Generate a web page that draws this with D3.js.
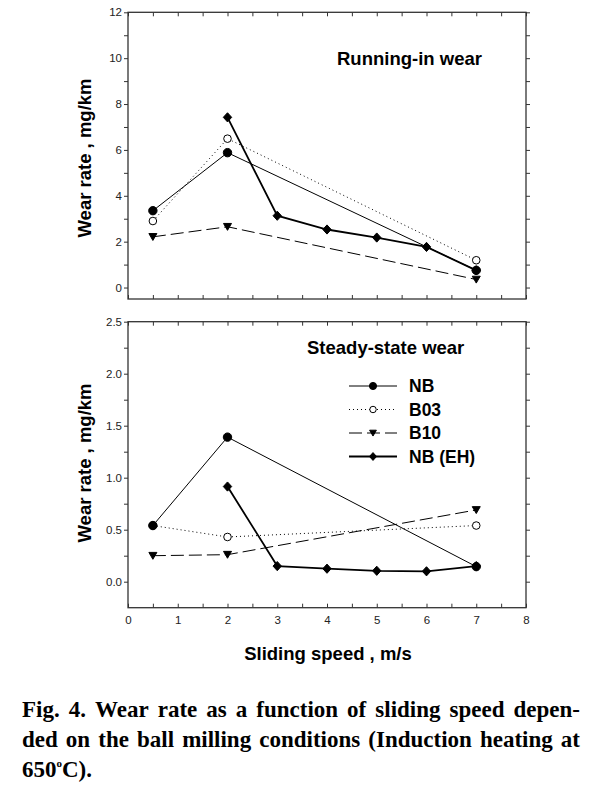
<!DOCTYPE html>
<html><head><meta charset="utf-8">
<script src="https://cdn.jsdelivr.net/npm/d3@7"></script>
<style>html,body{margin:0;padding:0;background:#fff}svg{display:block}</style>
</head><body>
<svg id="chart" width="603" height="787"></svg>
<script>
// ---- data ----
const speeds = [0.5, 2, 7];
const speedsEH = [2, 3, 4, 5, 6, 7];
const nbRun = [3.35, 5.88, 0.75];
const b03Run = [2.9, 6.49, 1.19];
const b10Run = [2.21, 2.65, 0.35];
const nbEhRun = [7.42, 3.13, 2.53, 2.18, 1.77, 0.75];
const nbSteady = [0.54, 1.39, 0.145];
const b03Steady = [0.54, 0.43, 0.54];
const b10Steady = [0.25, 0.26, 0.69];
const nbEhSteady = [0.915, 0.15, 0.125, 0.105, 0.10, 0.15];
const xTickLabels = [0, 1, 2, 3, 4, 5, 6, 7, 8];
const yTopLabels = [0, 2, 4, 6, 8, 10, 12];
const yBotLabels = [0, 0.5, 1.0, 1.5, 2.0, 2.5];
const seriesNames = ["NB", "B03", "B10", "NB (EH)"];
const panelTitles = ["Running-in wear", "Steady-state wear"];
const captionLines = [
  "Fig. 4. Wear rate as a function of sliding speed depen-",
  "ded on the ball milling conditions (Induction heating at"
];

const svg = d3.select("#chart");
const L = 128, R = 526;
const x = d3.scaleLinear().domain([0, 8]).range([L, R]);
const panels = [
  {top: 12.3, bottom: 299, domain: [-0.5, 12], labels: yTopLabels, step: 1, fmt: d3.format("d"),
   data: [nbRun, b03Run, b10Run, nbEhRun], title: panelTitles[0], tx: 337, ty: 65, xl: false, lblY: 158},
  {top: 321.7, bottom: 607.7, domain: [-0.25, 2.5], labels: yBotLabels, step: 0.25, fmt: d3.format(".1f"),
   data: [nbSteady, b03Steady, b10Steady, nbEhSteady], title: panelTitles[1], tx: 307, ty: 354, xl: true, lblY: 463}
];

const sym = {
  circle: r => d3.symbol(d3.symbolCircle, Math.PI * r * r)(),
  tri: s => `M${-4*s},${-3.3*s}L${4*s},${-3.3*s}L0,${3.6*s}Z`,
  dia: s => `M0,${-4.6*s}L${4.2*s},0L0,${4.6*s}L${-4.2*s},0Z`
};
const styles = [
  {w: 1, dash: null, mk: s => sym.circle(4.2*s), fill: "#000"},
  {w: 1, dash: "1,3", mk: s => sym.circle(3.8*s), fill: "#fff"},
  {w: 1, dash: "13,5", mk: s => sym.tri(s), fill: "#000"},
  {w: 1.8, dash: null, mk: s => sym.dia(s), fill: "#000"}
];
const xsFor = i => i === 3 ? speedsEH : speeds;

panels.forEach(p => {
  const y = d3.scaleLinear().domain(p.domain).range([p.bottom, p.top]);
  const g = svg.append("g");
  const minorX = d3.range(0, 8.001, 0.5);
  const yTicksAll = d3.range(0, p.domain[1] + 1e-6, p.step);
  const ax = g.append("g").attr("transform", `translate(0,${p.bottom})`)
    .call(d3.axisBottom(x).tickValues(minorX).tickSize(-4).tickFormat(""));
  const at = g.append("g").attr("transform", `translate(0,${p.top})`)
    .call(d3.axisTop(x).tickValues(minorX).tickSize(-4).tickFormat(""));
  const al = g.append("g").attr("transform", `translate(${L},0)`)
    .call(d3.axisLeft(y).tickValues(yTicksAll).tickSize(4).tickFormat(""));
  const ar = g.append("g").attr("transform", `translate(${R},0)`)
    .call(d3.axisRight(y).tickValues(yTicksAll).tickSize(4).tickFormat(""));
  [ax, at, al, ar].forEach(a => { a.select(".domain").remove(); a.selectAll("line").attr("stroke", "#333").attr("stroke-width", 1); });
  const lab = g.append("g").attr("transform", `translate(${L},0)`)
    .call(d3.axisLeft(y).tickValues(p.labels).tickSize(0).tickPadding(6).tickFormat(p.fmt));
  lab.select(".domain").remove();
  lab.selectAll("text").attr("font-family", "Liberation Sans, Arial, sans-serif").attr("font-size", 11.5).attr("fill", "#222");
  if (p.xl) {
    const xl = g.append("g").attr("transform", `translate(0,${p.bottom})`)
      .call(d3.axisBottom(x).tickValues(xTickLabels).tickSize(0).tickPadding(8).tickFormat(d3.format("d")));
    xl.select(".domain").remove();
    xl.selectAll("text").attr("font-family", "Liberation Sans, Arial, sans-serif").attr("font-size", 11.5).attr("fill", "#222");
  }
  g.append("rect").attr("x", L).attr("y", p.top).attr("width", R - L).attr("height", p.bottom - p.top)
    .attr("fill", "none").attr("stroke", "#333").attr("stroke-width", 1.3);
  g.append("text").attr("x", p.tx).attr("y", p.ty).text(p.title)
    .attr("font-family", "Liberation Sans, Arial, sans-serif").attr("font-weight", "bold").attr("font-size", 18.5);
  g.append("text").attr("transform", `translate(90.5,${p.lblY}) rotate(-90)`).attr("text-anchor", "middle")
    .text("Wear rate , mg/km")
    .attr("font-family", "Liberation Sans, Arial, sans-serif").attr("font-weight", "bold").attr("font-size", 18.5);
  [3, 2, 1, 0].forEach(i => {
    const xs = xsFor(i), vals = p.data[i], st = styles[i];
    const pts = xs.map((v, k) => [x(v), y(vals[k])]);
    g.append("path").attr("d", d3.line()(pts)).attr("fill", "none").attr("stroke", "#000")
      .attr("stroke-width", st.w).attr("stroke-dasharray", st.dash);
    g.selectAll(null).data(pts).join("path").attr("d", st.mk(1))
      .attr("transform", d => `translate(${d[0]},${d[1]})`)
      .attr("fill", st.fill).attr("stroke", "#000").attr("stroke-width", 1);
  });
});

// legend
const lg = svg.append("g");
const legY = [386, 409.5, 433, 456.5];
seriesNames.forEach((n, i) => {
  const st = styles[i];
  lg.append("line").attr("x1", 349).attr("x2", 397).attr("y1", legY[i]).attr("y2", legY[i])
    .attr("stroke", "#000").attr("stroke-width", st.w).attr("stroke-dasharray", st.dash);
  lg.append("path").attr("d", st.mk(0.85)).attr("transform", `translate(373,${legY[i]})`)
    .attr("fill", st.fill).attr("stroke", "#000");
  lg.append("text").attr("x", 409).attr("y", legY[i]).attr("dy", "0.36em").text(n)
    .attr("font-family", "Liberation Sans, Arial, sans-serif").attr("font-weight", "bold").attr("font-size", 17.5);
});

svg.append("text").attr("x", 328).attr("y", 659.5).attr("text-anchor", "middle").text("Sliding speed , m/s")
  .attr("font-family", "Liberation Sans, Arial, sans-serif").attr("font-weight", "bold").attr("font-size", 18.5);

// caption (justified)
const capFont = {"font-family": "Liberation Serif, Times New Roman, serif", "font-weight": "bold", "font-size": 23};
const capX0 = 22, capX1 = 580, capY = [717, 747];
captionLines.forEach((line, li) => {
  const words = line.split(" ");
  const tmp = words.map(w => {
    const t = svg.append("text").text(w);
    Object.entries(capFont).forEach(([k, v]) => t.attr(k, v));
    return t;
  });
  const widths = tmp.map(t => t.node().getComputedTextLength());
  const total = d3.sum(widths);
  const gap = (capX1 - capX0 - total) / (words.length - 1);
  let cx = capX0;
  tmp.forEach((t, k) => { t.attr("x", cx).attr("y", capY[li]); cx += widths[k] + gap; });
});
const last = svg.append("text").attr("x", capX0).attr("y", 777);
Object.entries(capFont).forEach(([k, v]) => last.attr(k, v));
last.append("tspan").text("650");
last.append("tspan").text("o").attr("font-size", 11).attr("dy", -10);
last.append("tspan").text("C).").attr("dy", 10);
</script>
</body></html>
